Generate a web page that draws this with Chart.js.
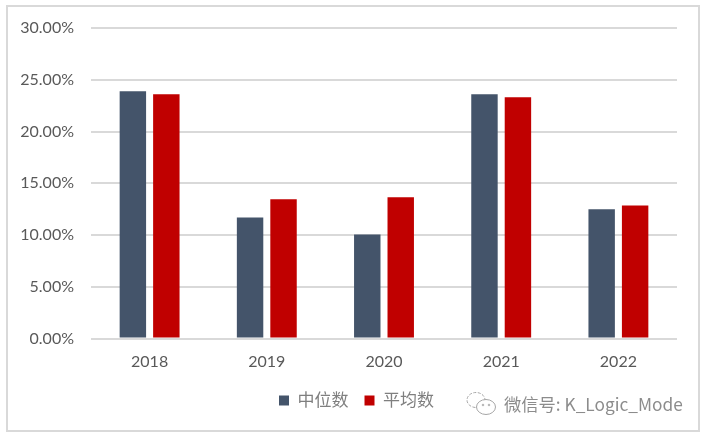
<!DOCTYPE html>
<html>
<head>
<meta charset="utf-8">
<style>
    html, body { margin: 0; padding: 0; background: #fff; }
    #wrap { position: relative; width: 704px; height: 436px; overflow: hidden; }
    #frame { position: absolute; left: 6px; top: 5px; width: 690px; height: 423px; border: 2px solid #d9d9d9; }
    #myChart { position: absolute; left: 0; top: 0; }
    #mark { position: absolute; left: 504px; top: 393px; font: 17.3px "Noto Sans CJK SC", sans-serif; line-height: 22px; color: #8c8c8c; white-space: nowrap; }
    #icon { position: absolute; left: 466px; top: 391px; }
</style>
</head>
<body>
<div id="wrap">
    <div id="frame"></div>
    <canvas id="myChart" width="704" height="436"></canvas>
    <svg id="icon" width="32" height="26" viewBox="0 0 32 26" fill="none" stroke="#a6a6a6" stroke-width="1">
        <ellipse cx="10" cy="9" rx="9" ry="7.5" stroke-dasharray="3 1.5"/>
        <ellipse cx="20" cy="16" rx="9.5" ry="7.5" fill="#fff"/>
        <circle cx="17" cy="14" r="0.8"/>
        <circle cx="23" cy="14" r="0.8"/>
    </svg>
    <div id="mark">微信号: K_Logic_Mode</div>
</div>
<script src="https://cdn.jsdelivr.net/npm/chart.js@4"></script>
<script>
// datos
const years = ['2018', '2019', '2020', '2021', '2022'];
const medianValues = [23.9, 11.7, 10.05, 23.6, 12.5];
const meanValues = [23.6, 13.45, 13.65, 23.3, 12.85];
const seriesNames = ['中位数', '平均数'];

const latin = 'Lato, "Noto Sans CJK SC", sans-serif';
const textColor = '#595959';

// la leyenda va centrada sobre todo el marco, no sobre el area del grafico
const moveLegend = {
    id: 'moveLegend',
    afterLayout: function(chart) {
        chart.legend.left += 18;
        chart.legend.right += 18;
    }
};

new Chart(document.getElementById('myChart').getContext('2d'), {
    type: 'bar',
    data: {
        labels: years,
        datasets: [
            { label: seriesNames[0], data: medianValues, backgroundColor: '#44546a' },
            { label: seriesNames[1], data: meanValues, backgroundColor: '#c00000' }
        ]
    },
    plugins: [moveLegend],
    options: {
        responsive: false,
        animation: false,
        categoryPercentage: 0.571,
        barPercentage: 0.79,
        layout: { padding: { left: 0, right: 27, top: 28, bottom: 17 } },
        plugins: {
            tooltip: { enabled: false },
            legend: {
                position: 'bottom',
                labels: {
                    boxWidth: 10,
                    boxHeight: 10,
                    padding: 16,
                    color: '#7f7f7f',
                    font: { family: latin, size: 17 }
                }
            }
        },
        scales: {
            x: {
                grid: { display: false },
                border: { display: false },
                ticks: { color: textColor, padding: 6, font: { family: latin, size: 16 } },
                afterFit: function(scale) { scale.height = 37.5; }
            },
            y: {
                min: 0,
                max: 30,
                grid: { color: '#d9d9d9', lineWidth: 2, drawTicks: false },
                border: { display: false },
                ticks: {
                    stepSize: 5,
                    padding: 17,
                    color: textColor,
                    font: { family: latin, size: 16 },
                    callback: function(v) { return v.toFixed(2) + '%'; }
                },
                afterFit: function(scale) { scale.width = 91; }
            }
        }
    }
});
</script>
</body>
</html>
